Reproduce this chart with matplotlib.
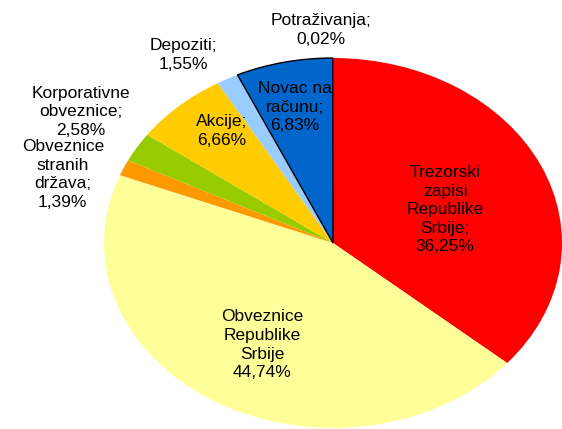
import matplotlib
matplotlib.use("Agg")
import matplotlib.pyplot as plt

categories = ["Trezorski zapisi Republike Srbije", "Obveznice Republike Srbije",
              "Obveznice stranih država", "Korporativne obveznice", "Akcije",
              "Depoziti", "Novac na računu", "Potraživanja"]
values = [36.25, 44.74, 1.39, 2.58, 6.66, 1.55, 6.83, 0.02]
label_heads = ["Trezorski\nzapisi\nRepublike\nSrbije;", "Obveznice\nRepublike\nSrbije",
               "Obveznice\nstranih\ndržava;", "Korporativne\nobveznice;", "Akcije;",
               "Depoziti;", "Novac na\nračunu;", "Potraživanja;"]
colors = ["#FF0000", "#FFFF99", "#FF9900", "#99CC00", "#FFCC00", "#99CCFF", "#0066CC", "#333399"]
# label centre positions in data coordinates (pie radius = 1)
label_pos = [(0.49, 0.18), (-0.31, -0.55), (-1.18, 0.37), (-1.10, 0.71), (-0.485, 0.605),
             (-0.655, 1.016), (-0.166, 0.735), (-0.052, 1.15)]

plt.rcParams['font.family'] = ['Liberation Sans', 'DejaVu Sans']
fig = plt.figure(figsize=(5.62, 4.29), dpi=100)
ax = fig.add_axes([0, 0, 1, 1])
wedges, _ = ax.pie(values, colors=colors, startangle=90, counterclock=False,
                   radius=1.0, wedgeprops=dict(linewidth=0))
wedges[6].set_edgecolor("black")
wedges[6].set_linewidth(1.0)
ax.set_aspect('auto')
cx, cy, rx, ry = 333, 243, 229, 185
ax.set_xlim(-cx / rx, (562 - cx) / rx)
ax.set_ylim(-(429 - cy) / ry, cy / ry)
ax.axis('off')

for head, v, (x, y) in zip(label_heads, values, label_pos):
    txt = head + "\n" + f"{v:.2f}%".replace(".", ",")
    ax.text(x, y, txt, ha='center', va='center', fontsize=12.5, color='black',
            linespacing=1.3)

fig.savefig("out.png", dpi=100)
